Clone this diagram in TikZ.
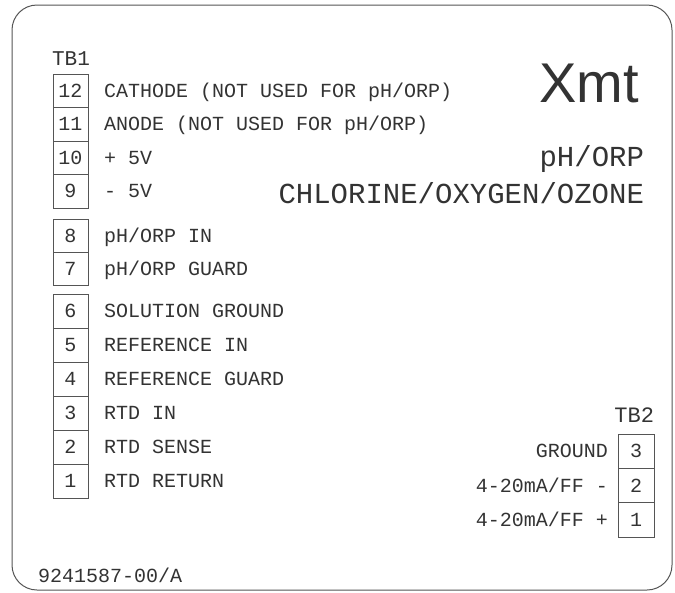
\documentclass[tikz,border=0pt]{standalone}
\usepackage{fontspec}
\setmainfont{Liberation Mono}
\newfontfamily\headfont{Liberation Sans}
\usepackage{tikz}
\usetikzlibrary{positioning}
\definecolor{ink}{HTML}{333333}
\definecolor{frame}{HTML}{555555}

\begin{document}
\begin{tikzpicture}[
    x=1pt, y=-1pt, % pixel-like grid, y grows downwards
    every node/.style={text=ink, inner sep=0pt, outer sep=0pt},
    term/.style={draw=frame, line width=0.8pt, minimum width=35pt,
        minimum height=#1, font=\fontsize{20}{20}\selectfont,
        text height=13pt, text depth=0pt},
    term/.default=34pt,
    lbl/.style={font=\fontsize{20}{20}\selectfont, text height=13pt, text depth=0pt}
]
    \useasboundingbox (0,0) rectangle (675,592);

    % 1. Outer plate
    \draw[frame, line width=1pt, rounded corners=25pt] (12,5) rectangle (672,590);

    % 2. Terminal block TB1
    \node[lbl, font=\fontsize{21}{21}\selectfont, anchor=base] (tb1) at (71,65) {TB1};

    \foreach \n/\y/\txt in {
        12/90.75/{CATHODE (NOT USED FOR pH/ORP)},
        11/124.25/{ANODE (NOT USED FOR pH/ORP)},
        10/157.75/{+ 5V},
        9/191.25/{- 5V}}
    {
        \node[term=33.5pt] (t\n) at (70.5,\y) {\n};
        \node[lbl, right=16pt of t\n] (l\n) {\txt};
    }

    \foreach \n/\y/\txt in {
        8/235.5/{pH/ORP IN},
        7/268.5/{pH/ORP GUARD}}
    {
        \node[term=33pt] (t\n) at (70.5,\y) {\n};
        \node[lbl, right=16pt of t\n] (l\n) {\txt};
    }

    \foreach \n/\y/\txt in {
        6/311/{SOLUTION GROUND},
        5/345/{REFERENCE IN},
        4/379/{REFERENCE GUARD},
        3/413/{RTD IN},
        2/447/{RTD SENSE},
        1/481/{RTD RETURN}}
    {
        \node[term] (t\n) at (70.5,\y) {\n};
        \node[lbl, right=16pt of t\n] (l\n) {\txt};
    }

    % 3. Title block
    \node[anchor=base east, font=\headfont\fontsize{56}{56}\selectfont] (xmt) at (639,102) {Xmt};
    \node[anchor=base east, font=\fontsize{29}{29}\selectfont] (ph) at (644,166) {pH/ORP};
    \node[anchor=base east, font=\fontsize{29}{29}\selectfont] (cl) at (644,203) {CHLORINE/OXYGEN/OZONE};

    % 4. Terminal block TB2
    \node[lbl, font=\fontsize{22}{22}\selectfont, anchor=base east] (tb2) at (654,422) {TB2};

    \foreach \n/\y/\txt in {
        3/451.2/{GROUND},
        2/485.5/{4-20mA/FF -},
        1/519.8/{4-20mA/FF +}}
    {
        \node[term=34.3pt, minimum width=36pt] (s\n) at (636,\y) {\n};
        \node[lbl, left=10pt of s\n] (r\n) {\txt};
    }

    % 5. Drawing number
    \node[lbl, anchor=base west] (dwg) at (38,582) {9241587-00/A};
\end{tikzpicture}
\end{document}
